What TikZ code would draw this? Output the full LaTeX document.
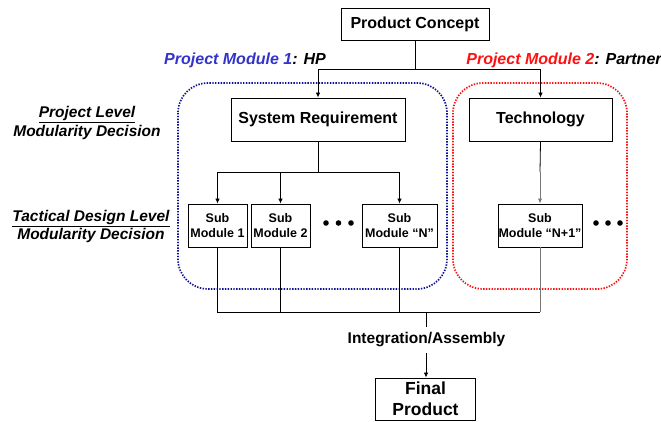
\documentclass[tikz,border=0pt]{standalone}
\usepackage{fontspec}
\setmainfont{Liberation Sans}
\usetikzlibrary{arrows.meta}
\definecolor{pmblue}{HTML}{3333CC}
\definecolor{boxblue}{HTML}{101090}
\definecolor{pmred}{HTML}{FF1010}
\definecolor{linegray}{HTML}{777777}
\begin{document}
\begin{tikzpicture}[x=1pt,y=-1pt,
  box/.style={draw=black,line width=0.9pt,inner sep=0pt,align=center,font=\bfseries\fontsize{16}{19}\selectfont},
  subbox/.style={box,font=\bfseries\fontsize{12.5}{15}\selectfont},
  link/.style={draw=black,line width=0.8pt},
  arr/.style={link,-{Latex[length=5pt,width=4.5pt]}},
  modframe/.style={line width=1.7pt,dash pattern=on 1.4pt off 1.4pt,rounded corners=30pt},
  sidelabel/.style={align=center,font=\bfseries\itshape\fontsize{15.5}{18.5}\selectfont},
  modlabel/.style={font=\bfseries\itshape\fontsize{16}{19}\selectfont},
  dot/.style={fill=black}]
\useasboundingbox (0,0) rectangle (661,421);

% module frames
\draw[modframe,draw=boxblue] (178,83) rectangle (447,289);
\draw[modframe,draw=pmred] (453,83) rectangle (627,289);

% module labels
\node[modlabel] (pm1) at (245,60) {\textcolor{pmblue}{Project Module 1}: HP};
\node[modlabel] (pm2) at (564,60) {\textcolor{pmred}{Project Module 2}: Partner};

% level labels
\node[sidelabel] (projlvl) at (87,123) {\underline{Project Level}\\Modularity Decision};
\node[sidelabel] (tactlvl) at (91,226.5) {\underline{Tactical Design Level}\\Modularity Decision};

% boxes
\node[box,minimum width=148pt,minimum height=32pt] (pc) at (415,24) {Product Concept};
\node[box,minimum width=174pt,minimum height=43pt] (sr) at (318,119.5) {System Requirement};
\node[box,minimum width=143pt,minimum height=43pt] (tech) at (540.5,119.5) {Technology};
\node[subbox,minimum width=59pt,minimum height=43pt] (s1) at (217.5,225.5) {Sub\\Module 1};
\node[subbox,minimum width=59pt,minimum height=43pt] (s2) at (280.5,225.5) {Sub\\Module 2};
\node[subbox,minimum width=75pt,minimum height=43pt] (sn) at (399.5,225.5) {Sub\\Module “N”};
\node[subbox,minimum width=84pt,minimum height=43pt] (sn1) at (540,225.5) {Sub\\Module “N+1”};
\node[box,minimum width=100pt,minimum height=42pt,font=\bfseries\fontsize{17.5}{21}\selectfont] (fp) at (425.5,399) {Final\\Product};
\node[font=\bfseries\fontsize{15.5}{18}\selectfont,inner sep=0pt,minimum height=26pt] (integ) at (426.5,340) {Integration/Assembly};

% ellipsis dots
\foreach \x in {326,338.5,351} \fill[dot] (\x,223) circle (2.8pt);
\foreach \x in {596,608,620} \fill[dot] (\x,223) circle (2.8pt);

% split from the product concept
\coordinate (split1) at (415,69);
\draw[link] (pc.south) -- (split1);
\draw[arr] (split1) -| (sr.north);
\draw[arr] (split1) -| (tech.north);

% split from the system requirement
\coordinate (split2) at (318,172);
\draw[link] (sr.south) -- (split2);
\draw[arr] (split2) -| (s1.north);
\draw[arr] (split2) -| (s2.north);
\draw[arr] (split2) -| (sn.north);

% technology to its sub module
\coordinate (techmid) at (540,172);
\draw[link] (tech.south) -- (techmid);
\draw[arr,draw=linegray,line width=1pt] (techmid) -- (sn1.north);

% merge into integration
\coordinate (merge) at (426,312);
\draw[link] (s1.south) -- (s1.south |- merge) -- (sn1.south |- merge);
\draw[link,draw=linegray,line width=1pt] (sn1.south) -- (sn1.south |- merge);
\draw[link] (s2.south) -- (s2.south |- merge);
\draw[link] (sn.south) -- (sn.south |- merge);
\draw[link] (merge) -- (merge |- integ.north);
\draw[arr] (merge |- integ.south) -- (merge |- fp.north);
\end{tikzpicture}
\end{document}
